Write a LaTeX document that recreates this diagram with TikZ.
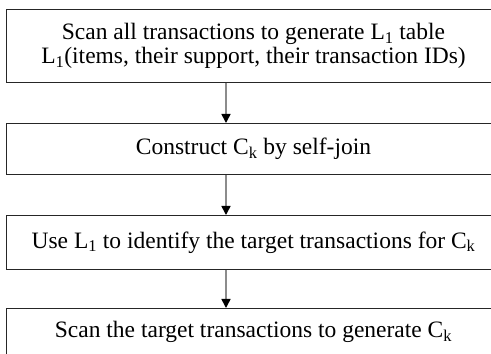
\documentclass[tikz,border=0pt]{standalone}
\usepackage{fontspec}
\setmainfont{Liberation Serif}
\usetikzlibrary{positioning,arrows.meta}

\begin{document}
\begin{tikzpicture}[x=1pt,y=1pt,
			stage/.style={rectangle, draw=black!85, line width=1pt, minimum width=494pt, align=center, font=\fontsize{23.5}{24.5}\selectfont, inner sep=0pt},
			flow/.style={-{Triangle[length=9pt,width=9pt,color=black]}, draw=black!45, line width=1.6pt}
			]
			\useasboundingbox (0,0) rectangle (491,354);
			\clip (0,0) rectangle (491,354);
			
			% first step, two lines
			\node[stage, minimum height=73pt, anchor=north west] (scan) at (6,345) {Scan all transactions to generate L\textsubscript{1} table\\L\textsubscript{1}(items, their support, their transaction IDs)};
			
			% candidate generation and target transactions
			\node[stage, minimum height=51pt, below=40pt of scan] (join) {Construct C\textsubscript{k} by self-join};
			\node[stage, minimum height=54pt, below=40pt of join] (target) {Use L\textsubscript{1} to identify the target transactions for C\textsubscript{k}};
			
			% last step, runs off the bottom
			\node[stage, minimum height=80pt, below=38pt of target] (gen) {};
			\node[font=\fontsize{23.5}{24}\selectfont, inner sep=0pt, below=30pt of gen.north, anchor=base] (gentext) {Scan the target transactions to generate C\textsubscript{k}};
			
			% arrows between the steps
			\draw[flow] (scan.south -| 226,0) -- (join.north -| 226,0);
			\draw[flow] (join.south -| 226,0) -- (target.north -| 226,0);
			\draw[flow] (target.south -| 226,0) -- (gen.north -| 226,0);
		\end{tikzpicture}
\end{document}
